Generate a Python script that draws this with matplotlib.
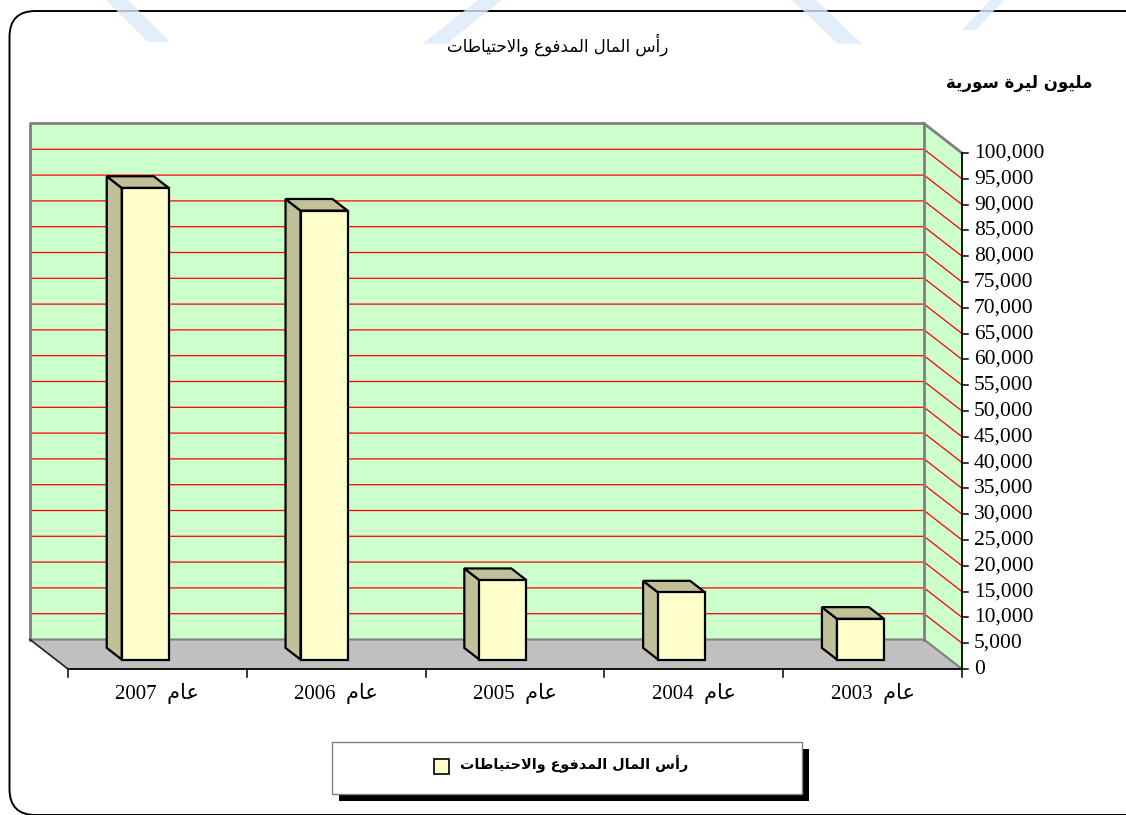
import matplotlib
matplotlib.use("Agg")
import matplotlib.pyplot as plt
from matplotlib.patches import Polygon, Rectangle, FancyBboxPatch

# ---- data -------------------------------------------------------------
years = [2007, 2006, 2005, 2004, 2003]
values = [91400, 87000, 15400, 13000, 7900]
y_ticks = list(range(0, 100001, 5000))

title = "رأس المال المدفوع والاحتياطات"
unit_label = "مليون ليرة سورية"
year_word = "عام"
series_name = "رأس المال المدفوع والاحتياطات"

# ---- minimal arabic shaping (matplotlib has no bidi / joining) --------
DUAL = {'ئ': 0xFE89, 'ب': 0xFE8F, 'ت': 0xFE95, 'ث': 0xFE99, 'ج': 0xFE9D,
        'ح': 0xFEA1, 'خ': 0xFEA5, 'س': 0xFEB1, 'ش': 0xFEB5, 'ص': 0xFEB9,
        'ض': 0xFEBD, 'ط': 0xFEC1, 'ظ': 0xFEC5, 'ع': 0xFEC9, 'غ': 0xFECD,
        'ف': 0xFED1, 'ق': 0xFED5, 'ك': 0xFED9, 'ل': 0xFEDD, 'م': 0xFEE1,
        'ن': 0xFEE5, 'ه': 0xFEE9, 'ي': 0xFEF1}
RIGHT = {'آ': 0xFE81, 'أ': 0xFE83, 'ؤ': 0xFE85, 'إ': 0xFE87, 'ا': 0xFE8D,
         'ة': 0xFE93, 'د': 0xFEA9, 'ذ': 0xFEAB, 'ر': 0xFEAD, 'ز': 0xFEAF,
         'و': 0xFEED, 'ى': 0xFEEF}
LAM_ALEF = {'آ': 0xFEF5, 'أ': 0xFEF7, 'إ': 0xFEF9, 'ا': 0xFEFB}


def ar(text):
    out = []
    prev_joins = False
    i = 0
    while i < len(text):
        c = text[i]
        nxt = text[i + 1] if i + 1 < len(text) else ''
        if c == 'ل' and nxt in LAM_ALEF:
            out.append(chr(LAM_ALEF[nxt] + (1 if prev_joins else 0)))
            prev_joins = False
            i += 2
            continue
        if c in DUAL or c in RIGHT:
            next_joins = c in DUAL and (nxt in DUAL or nxt in RIGHT)
            base = DUAL.get(c, RIGHT.get(c))
            if prev_joins and next_joins:
                form = 3
            elif prev_joins:
                form = 1
            elif next_joins:
                form = 2
            else:
                form = 0
            out.append(chr(base + form))
            prev_joins = next_joins
        else:
            out.append(c)
            prev_joins = False
        i += 1
    return ''.join(reversed(out))


# ---- layout (pixels of the 1126x815 picture) ---------------------------
W, H = 1126, 815
X0_PX, CAT_PX = 68, 178.8          # front left corner, width of one category
Y0_PX, PX_PER_UNIT = 669, 5.16 / 1000
DX = -38 / CAT_PX                  # full depth of the 3d box, in data units
DY = 29.5 / PX_PER_UNIT
BAR_W = 47 / CAT_PX
D_FRONT, D_BACK = 0.32, 0.715
YMAX = y_ticks[-1]
N = len(years)

SERIF = ['Liberation Serif', 'DejaVu Sans']
ARAB = ['DejaVu Sans']

fig = plt.figure(figsize=(W / 100, H / 100), dpi=100)
fig.patch.set_facecolor('white')

# pixel axes for frame, titles and legend
axp = fig.add_axes([0, 0, 1, 1])
axp.set_xlim(0, W)
axp.set_ylim(H, 0)
axp.axis('off')

axp.add_patch(FancyBboxPatch((9.5, 11), 1140, 804,
                             boxstyle="round,pad=0,rounding_size=26",
                             fc='white', ec='black', lw=1.4))

# faint watermark bands of the scanned page
wm = '#DCEAFA'
for pts in ([(106, 0), (128, 0), (170, 42), (148, 42)],
            [(478, 0), (502, 0), (446, 44), (422, 44)],
            [(792, 0), (816, 0), (862, 44), (838, 44)],
            [(990, 0), (1004, 0), (976, 30), (962, 30)]):
    axp.add_patch(Polygon(pts, closed=True, fc=wm, ec='none', alpha=0.8))

axp.text(558, 45, ar(title), family=ARAB, fontsize=12,
         ha='center', va='center')
axp.text(1093, 83, ar(unit_label), family=ARAB, fontsize=12,
         fontweight='bold', ha='right', va='center')

# legend box with shadow
axp.add_patch(Rectangle((339, 749), 470, 52, fc='black', ec='none'))
axp.add_patch(Rectangle((332, 742), 470, 52, fc='white', ec='#808080', lw=1))
axp.add_patch(Rectangle((434, 759), 15, 15, fc='#FFFFCC', ec='black', lw=1.2))
axp.text(688, 764, ar(series_name), family=ARAB, fontsize=10.4,
         fontweight='bold', ha='right', va='center')

# data axes for the 3d column chart
ax = fig.add_axes([0, 0, 1, 1])
ax.set_xlim(-X0_PX / CAT_PX, (W - X0_PX) / CAT_PX)
ax.set_ylim((Y0_PX - H) / PX_PER_UNIT, Y0_PX / PX_PER_UNIT)
ax.axis('off')
ax.patch.set_alpha(0)

wall_green = '#CCFFCC'
grey_edge = '#808080'

# back wall
ax.add_patch(Polygon([(DX, DY), (N + DX, DY), (N + DX, YMAX + DY), (DX, YMAX + DY)],
                     closed=True, fc=wall_green, ec='none', zorder=1))
# right side wall
ax.add_patch(Polygon([(N + DX, DY), (N, 0), (N, YMAX), (N + DX, YMAX + DY)],
                     closed=True, fc=wall_green, ec='none', zorder=1))
# floor
ax.add_patch(Polygon([(0, 0), (N, 0), (N + DX, DY), (DX, DY)],
                     closed=True, fc='#C0C0C0', ec='none', zorder=1))

# gridlines
for v in y_ticks[1:-1]:
    ax.plot([DX, N + DX, N], [v + DY, v + DY, v], color='#FF0000', lw=0.9, zorder=2)

# wall borders
ax.plot([DX, DX, N + DX, N + DX], [DY, YMAX + DY, YMAX + DY, DY],
        color=grey_edge, lw=2, zorder=3)
ax.plot([N + DX, N], [YMAX + DY, YMAX], color=grey_edge, lw=2, zorder=3)
ax.plot([DX, N + DX, N], [DY, DY, 0], color=grey_edge, lw=1.5, zorder=3)
ax.plot([DX, 0], [DY, 0], color='#202020', lw=1.2, zorder=3)

# axes lines and ticks
tick_len_y = 8 / PX_PER_UNIT
tick_len_x = 6 / CAT_PX
ax.plot([0, N], [0, 0], color='black', lw=1.3, zorder=4)
for k in range(N + 1):
    ax.plot([k, k], [0, -tick_len_y], color='black', lw=1.1, zorder=4)
ax.plot([N, N], [0, YMAX], color='black', lw=1.3, zorder=4)
for v in y_ticks:
    ax.plot([N, N + tick_len_x], [v, v], color='black', lw=1.1, zorder=4)
    ax.text(N + 12 / CAT_PX, v, f"{v:,}", family=SERIF, fontsize=15.5,
            ha='left', va='center', zorder=4)

for i, yr in enumerate(years):
    ax.text(i + 0.5, -24 / PX_PER_UNIT, f"{yr}  {ar(year_word)}", family=SERIF,
            fontsize=15, ha='center', va='center', zorder=4)

# 3d bars
bx = (D_BACK - D_FRONT) * DX
by = (D_BACK - D_FRONT) * DY
for i, v in enumerate(values):
    x0 = i + 0.5 - BAR_W / 2 + D_FRONT * DX
    y0 = D_FRONT * DY
    side = [(x0, y0), (x0, y0 + v), (x0 + bx, y0 + v + by), (x0 + bx, y0 + by)]
    top = [(x0, y0 + v), (x0 + BAR_W, y0 + v), (x0 + BAR_W + bx, y0 + v + by),
           (x0 + bx, y0 + v + by)]
    ax.add_patch(Polygon(side, closed=True, fc='#C0C099', ec='black', lw=1.6,
                         joinstyle='miter', zorder=5))
    ax.add_patch(Polygon(top, closed=True, fc='#C0C099', ec='black', lw=1.6,
                         joinstyle='miter', zorder=5))
    ax.add_patch(Rectangle((x0, y0), BAR_W, v, fc='#FFFFCC', ec='black', lw=1.6,
                           joinstyle='miter', zorder=6))

fig.savefig('out.png', dpi=100)
